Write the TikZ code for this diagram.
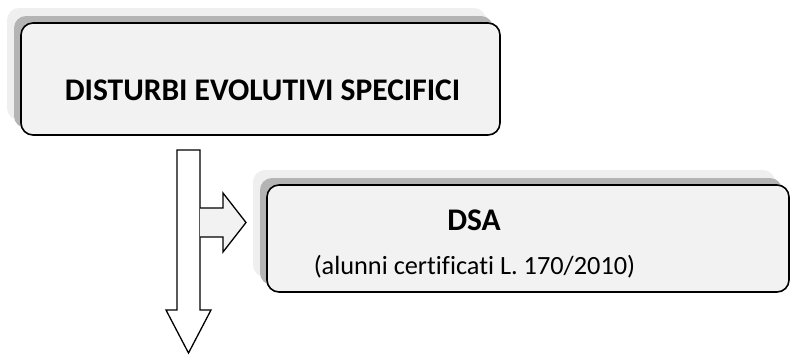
\documentclass[tikz,border=0pt]{standalone}
\usepackage{fontspec}
\setmainfont[Ligatures=NoCommon]{Carlito}
\usetikzlibrary{shadows}
\definecolor{boxfill}{HTML}{F2F2F2}
\definecolor{shadedark}{HTML}{B4B4B4}
\definecolor{shadelight}{HTML}{EFEFEF}
\tikzset{x=1pt, y=-1pt,
    shadowbox/.style={draw=black, line width=1.6pt, fill=boxfill,
        rounded corners=12pt, inner sep=0pt,
        general shadow={fill=shadelight, draw=none, shadow xshift=-14pt, shadow yshift=15pt},
        general shadow={fill=shadedark, draw=none, shadow xshift=-7pt, shadow yshift=7pt}},
    boxtext/.style={anchor=base, inner sep=0pt},
    titlefont/.style={font=\fontsize{31.5}{36}\selectfont\bfseries},
    notefont/.style={font=\fontsize{26.3}{32}\selectfont},
    blockarrow/.style={draw=black, line width=1.3pt, line join=miter},
    }
\begin{document}
\begin{tikzpicture}
\useasboundingbox (0,0) rectangle (791,354);
% boxes
\node[shadowbox, minimum width=479pt, minimum height=112pt] (disturbi) at (260.5,79) {};
\node[shadowbox, minimum width=522pt, minimum height=107pt] (dsa) at (528,238.5) {};
% texts
\node[boxtext, titlefont] (disturbilbl) at (262.5,100) {DISTURBI EVOLUTIVI SPECIFICI};
\node[boxtext, titlefont] (dsalbl) at (474,230) {DSA};
\node[boxtext, notefont] (alunnilbl) at (474.5,274) {(alunni certificati L. 170/2010)};
% block arrows
\draw[blockarrow, fill=white] (177,150) -- (200,150) -- (200,310) -- (211,310)
    -- (188.5,353) -- (166,310) -- (177,310) -- cycle;
\draw[blockarrow, fill=boxfill] (200,208) -- (223,208) -- (223,193) -- (246,222.5)
    -- (223,252) -- (223,237) -- (200,237);
\end{tikzpicture}
\end{document}
